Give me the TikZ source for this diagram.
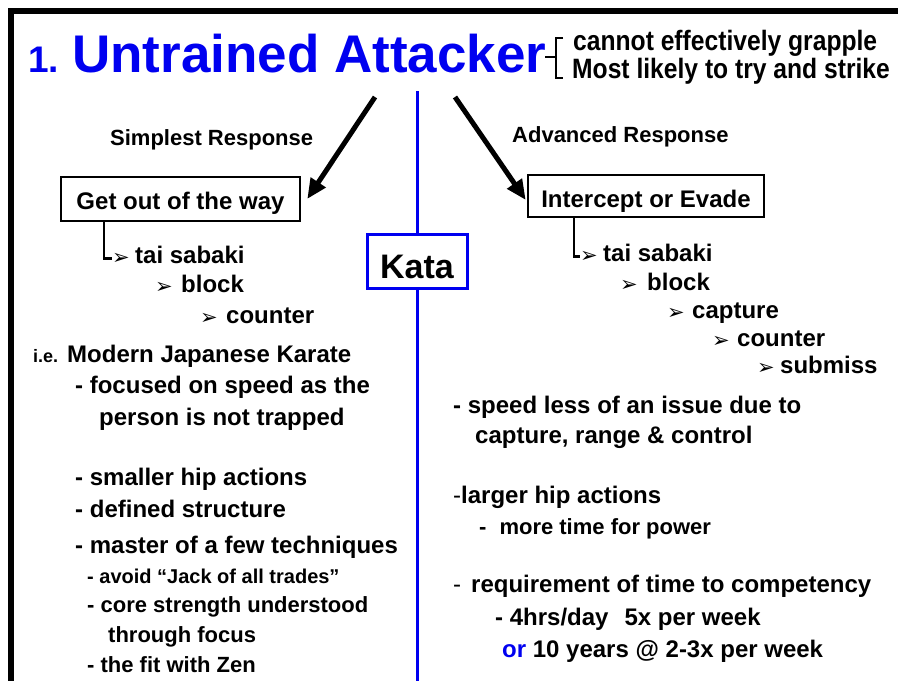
\documentclass[tikz,border=0pt]{standalone}
\usepackage{fontspec}
\setmainfont{Liberation Sans}
\newfontfamily\narrowfont{Liberation Sans}[FakeStretch=0.88]
\newfontfamily\dingfont{DejaVu Sans}
\usetikzlibrary{arrows.meta,calc}
\definecolor{tblue}{RGB}{0,0,240}
\tikzset{
  txt/.style={anchor=base west, inner sep=0pt, font=\fontsize{24}{28}\selectfont\bfseries},
  txtm/.style={txt, font=\fontsize{22}{26}\selectfont\bfseries},
  txts/.style={txt, font=\fontsize{20}{24}\selectfont\bfseries},
  bul/.style={anchor=base west, inner sep=0pt, font=\fontsize{21}{24}\selectfont\dingfont},
  bigarrow/.style={line width=5pt, -{Triangle[length=20pt,width=17pt]}},
  elbow/.style={line width=2.5pt},
  boxnode/.style={draw, line width=2.5pt, inner xsep=0pt, inner ysep=10pt, font=\fontsize{24}{28}\selectfont\bfseries},
}
\begin{document}
\begin{tikzpicture}[x=1pt,y=-1pt]
\useasboundingbox (0,0) rectangle (898,681);
\fill[white] (0,0) rectangle (898,681);
% frame
\fill[black] (8,8) rectangle (898,14);
\fill[black] (8,8) rectangle (14,681);

% title
\node[txt, font=\fontsize{37}{40}\selectfont\bfseries, text=tblue] (one) at (28,72) {1.};
\node[txt, font=\fontsize{53}{56}\selectfont\bfseries, text=tblue] (title) at (72,72) {Untrained Attacker};
\draw[line width=2.5pt] (545,57) -- (556,57) (563,38) -- (556,38) -- (556,78) -- (563,78);
\node[txt, font=\fontsize{28}{30}\selectfont\narrowfont\bfseries] (n1) at (573,50) {cannot effectively grapple};
\node[txt, font=\fontsize{28}{30}\selectfont\narrowfont\bfseries] (n2) at (572,78) {Most likely to try and strike};

% responses
\node[txtm] (simp) at (110,145) {Simplest Response};
\node[txtm] (adv) at (512,142) {Advanced Response};

\node[boxnode, minimum width=239pt, minimum height=44pt, text height=22pt, text depth=2pt] (get) at (180.5,199) {Get out of the way};
\node[boxnode, minimum width=236pt, minimum height=42pt, text height=22pt, text depth=0pt] (int) at (646,196) {Intercept or Evade};

\coordinate (la) at (375,97);
\coordinate (ra) at (455,97);
\draw[bigarrow] (la) -- ($(get.east)+(6,0)$);
\draw[bigarrow] (ra) -- ($(int.west)+(-1,4)$);

% Kata and blue divider
\node[draw=tblue, line width=3pt, minimum width=100pt, minimum height=54pt, inner sep=0pt, inner ysep=10pt, text height=34pt, text depth=0pt, font=\fontsize{34}{38}\selectfont\bfseries] (kata) at (417,261) {Kata};
\coordinate (vt) at (417,91);
\coordinate (vb) at (417,681);
\draw[tblue, line width=3pt] (vt) -- (kata.north) (kata.south) -- (vb);

% left list
\node[bul] (bL0) at (112,264) {➢};
\node[txt] (tL0) at (135,263) {tai sabaki};
\node[bul] (bL1) at (155,293) {➢};
\node[txt] (tL1) at (181,292) {block};
\node[bul] (bL2) at (200,324) {➢};
\node[txt] (tL2) at (226,323) {counter};
\draw[elbow] ([xshift=-76.5pt]get.south) |- (bL0.west);

% right list
\node[bul] (bR0) at (580,262) {➢};
\node[txt] (tR0) at (603,261) {tai sabaki};
\node[bul] (bR1) at (620,291) {➢};
\node[txt] (tR1) at (647,290) {block};
\node[bul] (bR2) at (667,319) {➢};
\node[txt] (tR2) at (692,318) {capture};
\node[bul] (bR3) at (712,347) {➢};
\node[txt] (tR3) at (737,346) {counter};
\node[bul] (bR4) at (757,374) {➢};
\node[txt] (tR4) at (780,373) {submiss};
\draw[elbow] ([xshift=-72pt]int.south) |- (bR0.west);

% left text
\node[txt, font=\fontsize{18}{20}\selectfont\bfseries] (ie) at (33,362) {i.e.};
\node[txt] (mjk) at (67,362) {Modern Japanese Karate};
\node[txt] (l1) at (75,393) {- focused on speed as the};
\node[txt] (l2) at (99,425) {person is not trapped};
\node[txt] (l3) at (75,485) {- smaller hip actions};
\node[txt] (l4) at (75,517) {- defined structure};
\node[txt] (l5) at (75,553) {- master of a few techniques};
\node[txts] (l6) at (87,583) {- avoid “Jack of all trades”};
\node[txtm] (l7) at (87,612) {- core strength understood};
\node[txtm] (l8) at (108,642) {through focus};
\node[txtm] (l9) at (87,672) {- the fit with Zen};

% right text
\node[txt] (r1) at (453,413) {- speed less of an issue due to};
\node[txt] (r2) at (475,443) {capture, range \& control};
\node[txt] (r3) at (453,503) {{\mdseries -}larger hip actions};
\node[txt, font=\fontsize{22}{24}\selectfont\bfseries] (r4) at (479,534) {-\hspace{13pt}more time for power};
\node[txt] (r5) at (453,592) {{\mdseries -}\hspace{10pt}requirement of time to competency};
\node[txt] (r6) at (495,625) {- 4hrs/day\hspace{16pt}5x per week};
\node[txt] (r7) at (502,657) {\textcolor{tblue}{or} 10 years @ 2-3x per week};
\end{tikzpicture}
\end{document}
